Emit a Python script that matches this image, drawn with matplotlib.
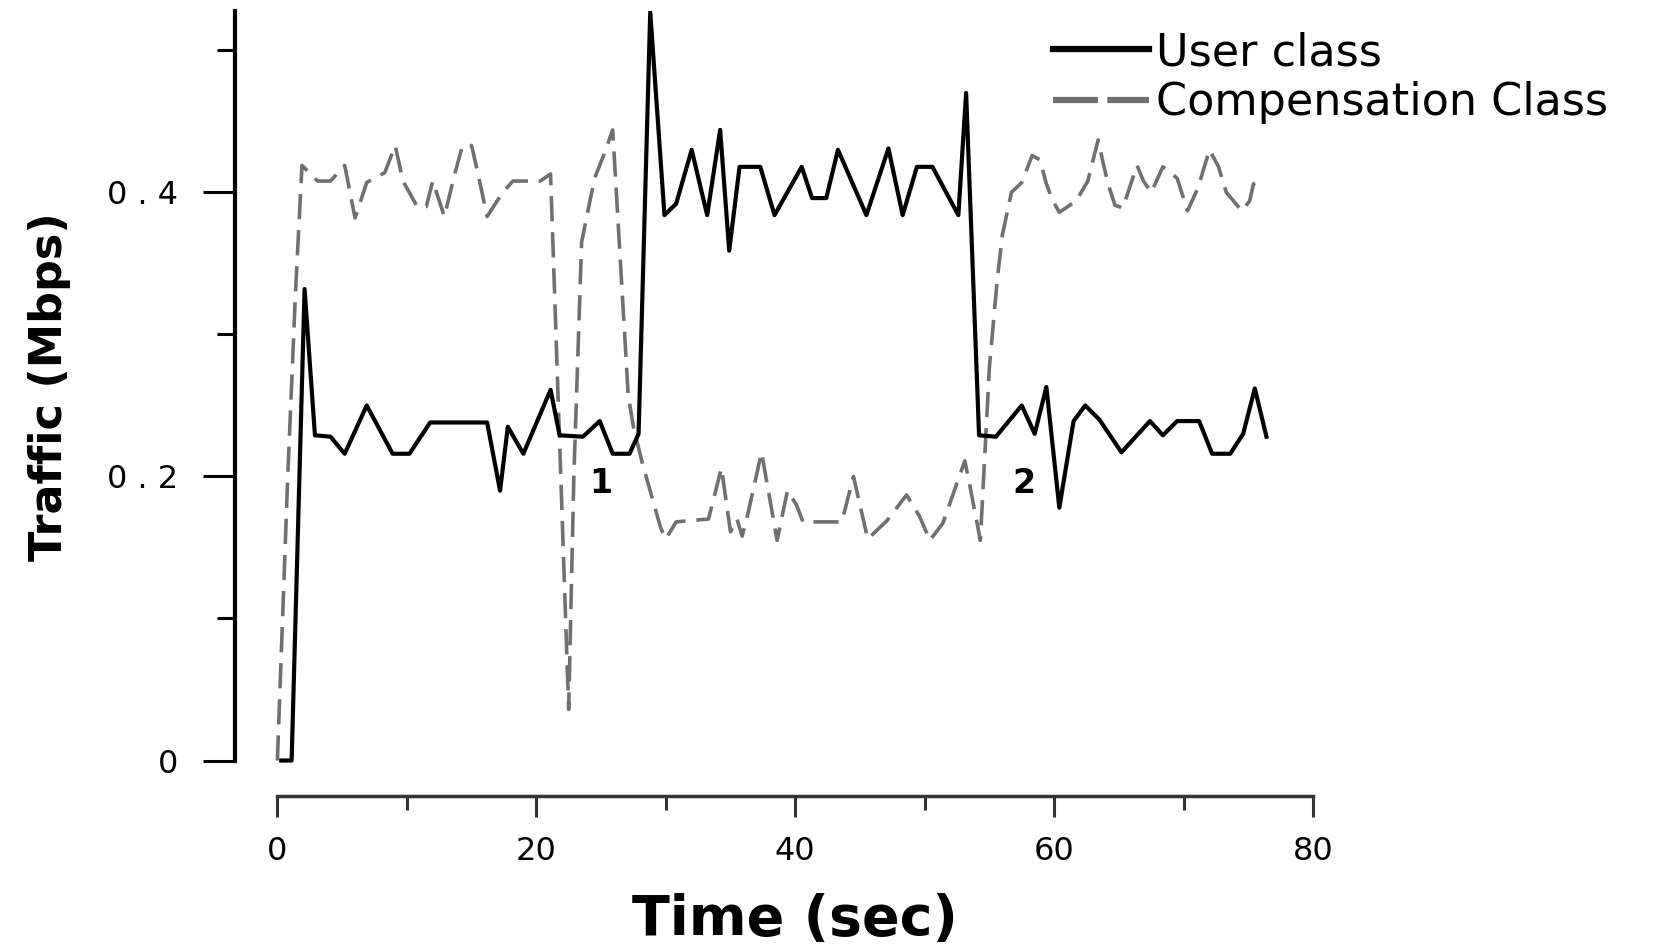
import matplotlib
matplotlib.use("Agg")
import matplotlib.pyplot as plt
from matplotlib.lines import Line2D

plt.rcParams['font.family'] = ['DejaVu Sans']

# values
user_t = [0.3, 1.1, 2.1, 2.9, 4.1, 5.2, 6.9, 8.9, 10.2, 11.8, 16.2, 17.2, 17.8,
          19.0, 21.1, 21.8, 23.6, 24.9, 25.9, 27.2, 27.9, 28.8, 29.9, 30.8,
          32.0, 33.2, 34.2, 34.9, 35.7, 37.3, 38.4, 40.5, 41.3, 42.4, 43.3,
          45.5, 47.2, 48.3, 49.4, 50.6, 52.6, 53.2, 54.2, 55.5, 57.5, 58.5,
          59.4, 60.4, 61.5, 62.4, 63.5, 65.2, 67.4, 68.4, 69.5, 71.2, 72.2,
          73.6, 74.6, 75.5, 76.4]
user_y = [0.0, 0.0, 0.332, 0.229, 0.228, 0.216, 0.250, 0.216, 0.216, 0.238,
          0.238, 0.190, 0.235, 0.216, 0.261, 0.229, 0.228, 0.239, 0.216,
          0.216, 0.230, 0.527, 0.384, 0.392, 0.430, 0.384, 0.444, 0.359,
          0.418, 0.418, 0.384, 0.418, 0.396, 0.396, 0.430, 0.384, 0.431,
          0.384, 0.418, 0.418, 0.384, 0.470, 0.229, 0.228, 0.250, 0.230,
          0.263, 0.178, 0.239, 0.250, 0.240, 0.217, 0.239, 0.229, 0.239,
          0.239, 0.216, 0.216, 0.230, 0.262, 0.228]

comp_t = [0.0, 0.8, 1.4, 1.9, 3.1, 4.1, 5.2, 6.0, 6.9, 8.3, 9.1, 9.7, 10.8,
          11.5, 12.0, 12.9, 13.7, 14.3, 15.0, 15.5, 16.2, 17.4, 18.2, 20.3,
          21.1, 22.5, 22.9, 23.5, 24.5, 25.2, 25.9, 27.1, 27.5, 28.2, 29.6,
          30.0, 30.8, 31.9, 33.3, 34.3, 35.0, 35.5, 35.9, 36.3, 37.4, 38.6,
          39.4, 40.1, 40.6, 43.6, 44.5, 45.0, 45.6, 47.1, 48.6, 49.6, 50.4,
          51.4, 53.1, 53.5, 54.3, 54.7, 55.0, 55.6, 56.0, 56.7, 57.5, 58.3,
          58.9, 59.4, 59.9, 60.4, 61.7, 62.6, 63.4, 63.8, 64.2, 64.7, 65.3,
          66.4, 66.9, 67.5, 68.4, 69.5, 70.3, 71.1, 72.0, 72.7, 73.3, 74.5,
          75.1, 75.4, 76.1]
comp_y = [0.0, 0.20, 0.33, 0.419, 0.408, 0.408, 0.419, 0.382, 0.407, 0.414,
          0.433, 0.408, 0.390, 0.390, 0.408, 0.383, 0.413, 0.433, 0.433,
          0.413, 0.383, 0.400, 0.408, 0.408, 0.413, 0.036, 0.20, 0.365,
          0.410, 0.426, 0.444, 0.257, 0.235, 0.209, 0.164, 0.156, 0.168,
          0.169, 0.170, 0.206, 0.161, 0.170, 0.158, 0.172, 0.217, 0.155,
          0.190, 0.180, 0.168, 0.168, 0.200, 0.180, 0.156, 0.169, 0.187,
          0.172, 0.155, 0.167, 0.211, 0.193, 0.155, 0.225, 0.277, 0.338,
          0.370, 0.400, 0.407, 0.426, 0.423, 0.406, 0.394, 0.386, 0.394,
          0.408, 0.437, 0.420, 0.405, 0.391, 0.389, 0.419, 0.408, 0.400,
          0.418, 0.410, 0.387, 0.403, 0.430, 0.418, 0.400, 0.387, 0.394,
          0.406, 0.410]

labels = ['User class', 'Compensation Class']
x_major = [0, 20, 40, 60, 80]
x_minor = [10, 30, 50, 70]
y_major = [0, 0.2, 0.4]
y_minor = [0.1, 0.3, 0.5]
y_ticklabels = ['0', '0 . 2', '0 . 4']
marks = [('1', 25.0, 0.195), ('2', 57.7, 0.195)]

comp_color = '#707070'

fig = plt.figure(figsize=(16.6, 9.48), dpi=100)
ax = fig.add_axes([0.1416, 0.1603, 0.6494, 0.8285])

ax.plot(comp_t, comp_y, color=comp_color, lw=2.6, dashes=(7, 3))
ax.plot(user_t, user_y, color='black', lw=3.0)

ax.set_xlim(-3.27, 80)
ax.set_ylim(-0.025, 0.528)
for s in ['top', 'right']:
    ax.spines[s].set_visible(False)
ax.spines['left'].set_bounds(0, 0.528)
ax.spines['bottom'].set_bounds(0, 80)
ax.spines['left'].set_linewidth(3)
ax.spines['bottom'].set_linewidth(2.5)
ax.spines['bottom'].set_color('#333333')

ax.set_xticks(x_major)
ax.set_xticks(x_minor, minor=True)
ax.set_yticks(y_major)
ax.set_yticklabels(y_ticklabels)
ax.set_yticks(y_minor, minor=True)
ax.tick_params(axis='y', which='major', length=23, width=2.2, pad=18, labelsize=23)
ax.tick_params(axis='y', which='minor', length=13, width=2.2)
ax.tick_params(axis='x', which='major', length=15, width=2.2, pad=14,
               labelsize=23, color='#333333')
ax.tick_params(axis='x', which='minor', length=10, width=2.2, color='#333333')

ax.set_xlabel('Time (sec)', fontsize=40, fontweight='bold')
ax.xaxis.set_label_coords((40 + 3.27) / 83.27, -0.1235)
ax.set_ylabel('Traffic (Mbps)', fontsize=32, fontweight='bold')
ax.yaxis.set_label_coords(-0.152, 0.521)

for txt, mx, my in marks:
    ax.text(mx, my, txt, ha='center', va='center', fontsize=24, fontweight='bold')

handles = [Line2D([], [], color='black', lw=4.5),
           Line2D([], [], color=comp_color, lw=4.5, dashes=(7.2, 1.5))]
ax.legend(handles, labels, loc='upper left',
          bbox_to_anchor=(1053 / 1660, 1 - 31 / 948),
          bbox_transform=fig.transFigure, frameon=False, fontsize=32,
          handlelength=2.15, handletextpad=0.16, labelspacing=0.16,
          borderpad=0, borderaxespad=0)

fig.savefig('out.png', dpi=100)
